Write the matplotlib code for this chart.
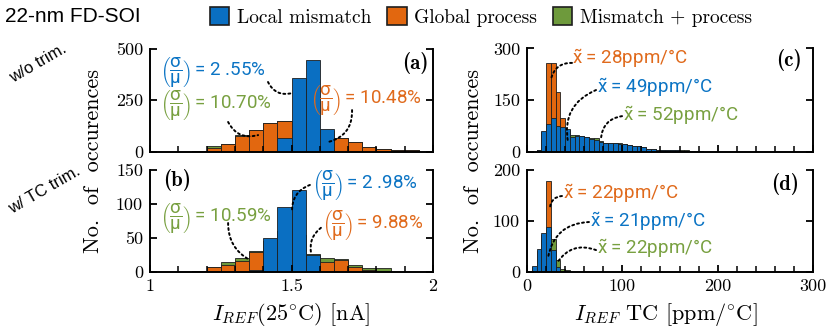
import numpy as np
import matplotlib
matplotlib.use("Agg")
import matplotlib.pyplot as plt
from matplotlib.patches import Patch
from matplotlib.ticker import MultipleLocator

# ---- data ----
# I_REF(25C) histograms, bins of 0.05 nA starting at 1.15
iref_bins = np.round(1.15 + 0.05 * np.arange(16), 2)
local_a = [0, 0, 0, 0, 0, 0, 67, 360, 444, 110, 0, 0, 0, 0, 0, 0]
global_a = [3, 18, 36, 77, 103, 139, 150, 140, 105, 65, 65, 44, 21, 11, 7, 5]
both_a = [4, 26, 37, 79, 106, 140, 150, 130, 100, 98, 66, 46, 22, 12, 8, 5]

local_b = [0, 0, 0, 0, 3, 50, 96, 121, 25, 0, 0, 0, 0, 0, 0, 0]
global_b = [1, 7, 11, 16, 30, 45, 60, 55, 24, 15, 18, 8, 3, 0, 0, 0]
both_b = [2, 8, 15, 20, 31, 45, 60, 55, 26, 20, 19, 10, 6, 6, 0, 0]

# TC histograms, bins of 5 ppm/C
tc_bins_c = 10 + 5 * np.arange(35)
local_c = [5, 60, 81, 99, 74, 70, 65, 43, 45, 44, 41, 36, 34, 29, 25, 24, 24, 22,
           21, 19, 17, 15, 13, 7, 6, 5, 4, 4, 3, 3, 2, 2, 1, 1, 1]
global_c = [3, 55, 259, 257, 172, 99, 45, 20, 10, 5, 3, 0, 0, 0, 0, 0, 0, 0,
            0, 0, 0, 0, 0, 0, 0, 0, 0, 0, 0, 0, 0, 0, 0, 0, 0]
both_c = [5, 58, 80, 98, 74, 70, 64, 48, 47, 45, 42, 38, 38, 30, 25, 24, 25, 24,
          23, 19, 17, 15, 13, 7, 6, 5, 5, 4, 4, 3, 3, 3, 1, 1, 1]

tc_bins_d = 5 + 5 * np.arange(8)
local_d = [11, 46, 77, 88, 43, 10, 0, 0]
global_d = [5, 25, 60, 178, 40, 5, 0, 0]
both_d = [10, 42, 72, 85, 64, 24, 5, 3]

legend_labels = ["Local mismatch", "Global process", "Mismatch + process"]

BLUE = "#0a6fc2"
ORANGE = "#e2670f"
GREEN = "#6e9a3c"
T_BLUE = "#0b74c4"
T_ORANGE = "#e06a1c"
T_GREEN = "#78a040"

plt.rcParams["font.family"] = "cmr10"
plt.rcParams["axes.formatter.use_mathtext"] = True
plt.rcParams["mathtext.fontset"] = "custom"
plt.rcParams["mathtext.rm"] = "Roboto"
plt.rcParams["mathtext.it"] = "Roboto"
plt.rcParams["mathtext.sf"] = "Roboto"
plt.rcParams["mathtext.bf"] = "Roboto:bold"

W, H = 830, 332
fig = plt.figure(figsize=(W / 100, H / 100), dpi=100)


def px_axes(x0, y0, x1, y1):
    # image pixel box -> figure axes
    return fig.add_axes([x0 / W, 1 - y1 / H, (x1 - x0) / W, (y1 - y0) / H])


ax_a = px_axes(150, 49, 433, 151.5)
ax_b = px_axes(150, 170, 433, 272)
ax_c = px_axes(527, 48.5, 813, 151.5)
ax_d = px_axes(527, 170, 813, 272)


def hist3(ax, bins, width, loc, glob, both):
    kw = dict(width=width, align="edge", edgecolor="#1e1e1e", linewidth=0.6)
    ax.bar(bins, both, color=GREEN, **kw)
    ax.bar(bins, glob, color=ORANGE, **kw)
    ax.bar(bins, loc, color=BLUE, **kw)


hist3(ax_a, iref_bins, 0.05, local_a, global_a, both_a)
hist3(ax_b, iref_bins, 0.05, local_b, global_b, both_b)
hist3(ax_c, tc_bins_c, 5, local_c, global_c, both_c)
hist3(ax_d, tc_bins_d, 5, local_d, global_d, both_d)

for ax in (ax_a, ax_b, ax_c, ax_d):
    ax.spines["top"].set_visible(False)
    for s in ("left", "right", "bottom"):
        ax.spines[s].set_linewidth(1.4)
    ax.tick_params(which="major", direction="in", length=5, width=1.3,
                   right=True, top=False, labelsize=13, pad=5)
    ax.tick_params(which="minor", direction="in", length=4, width=1.1,
                   left=False, right=False, top=False)

for ax in (ax_a, ax_b):
    ax.set_xlim(1, 2)
    ax.xaxis.set_minor_locator(MultipleLocator(0.1))
    ax.set_xticks([1, 1.5, 2], ["1", "1.5", "2"])
for ax in (ax_c, ax_d):
    ax.set_xlim(0, 300)
    ax.xaxis.set_minor_locator(MultipleLocator(20))
    ax.set_xticks([0, 100, 200, 300], ["0", "100", "200", "300"])
for ax in (ax_a, ax_c):
    ax.tick_params(labelbottom=False)

ax_a.set_ylim(0, 500)
ax_a.set_yticks([0, 250, 500], ["0", "250", "500"])
ax_b.set_ylim(0, 150)
ax_b.set_yticks([0, 50, 100, 150], ["0", "50", "100", "150"])
ax_c.set_ylim(0, 300)
ax_c.set_yticks([0, 150, 300], ["0", "150", "300"])
ax_d.set_ylim(0, 200)
ax_d.set_yticks([0, 100, 200], ["0", "100", "200"])

# panel tags
tag = dict(family="cmb10", fontsize=15, va="center")
ax_a.text(0.985, 0.86, "(a)", transform=ax_a.transAxes, ha="right", **tag)
ax_b.text(0.045, 0.90, "(b)", transform=ax_b.transAxes, ha="left", **tag)
ax_c.text(0.96, 0.89, "(c)", transform=ax_c.transAxes, ha="right", **tag)
ax_d.text(0.95, 0.86, "(d)", transform=ax_d.transAxes, ha="right", **tag)

frac = r"$\left(\dfrac{\sigma}{\mu}\right)\,$"
tilde = r"$\tilde{\mathrm{x}}$"


def note(ax, text, xy_text, start, end, color, rad):
    ax.text(*xy_text, text, color=color, family="Roboto", fontsize=13.5,
            ha="left", va="center")
    ax.annotate("", xy=end, xytext=start,
                arrowprops=dict(arrowstyle="-", linestyle=(0, (1, 1.6)),
                                linewidth=1.4, color="black",
                                shrinkA=0, shrinkB=0,
                                connectionstyle=f"arc3,rad={rad}"))


note(ax_a, frac + "= 2 .55%", (1.035, 388), (1.417, 339), (1.502, 285), T_BLUE, 0.4)
note(ax_a, frac + "= 10.70%", (1.035, 227), (1.276, 144), (1.382, 80), T_GREEN, 0.4)
note(ax_a, frac + "= 10.48%", (1.565, 251), (1.714, 202), (1.629, 46), T_ORANGE, -0.4)

note(ax_b, frac + "= 2 .98%", (1.572, 128), (1.565, 128), (1.502, 88), T_BLUE, 0.36)
note(ax_b, frac + "= 10.59%", (1.035, 79), (1.276, 72), (1.353, 17.6), T_GREEN, 0.3)
note(ax_b, frac + "= 9.88%", (1.608, 69), (1.604, 65), (1.569, 28), T_ORANGE, 0.3)

note(ax_c, tilde + " = 28ppm/°C", (47.2, 272), (47.2, 258), (25.2, 211), T_ORANGE, 0.4)
note(ax_c, tilde + " = 49ppm/°C", (73.1, 185), (72.4, 179), (43, 27.7), T_BLUE, 0.4)
note(ax_c, tilde + " = 52ppm/°C", (101, 106), (99.7, 103), (77.6, 36), T_GREEN, 0.4)

note(ax_d, tilde + " = 22ppm/°C", (37.8, 153), (36.7, 149), (24.1, 127), T_ORANGE, 0.4)
note(ax_d, tilde + " = 21ppm/°C", (66, 99), (65, 98), (22, 27.5), T_BLUE, 0.4)
note(ax_d, tilde + " = 22ppm/°C", (73, 45), (72.4, 43), (31.5, 17.6), T_GREEN, 0.4)

# shared labels
ylab = dict(rotation=90, ha="center", va="center", fontsize=16, family="cmr10")
fig.text(93 / W, 1 - 161 / H, "No.  of  occurences", **ylab)
fig.text(473 / W, 1 - 161 / H, "No.  of  occurences", **ylab)
xlab = dict(ha="center", va="center", fontsize=16, family="cmr10", math_fontfamily="cm")
fig.text(291 / W, 1 - 314 / H, r"$I_{REF}(25^{\circ}\mathrm{C})$ [nA]", **xlab)
fig.text(666 / W, 1 - 314 / H, r"$I_{REF}$ TC [ppm/$^{\circ}$C]", **xlab)

# header and row tags
fig.text(5 / W, 1 - 17 / H, "22-nm FD-SOI", family="Liberation Sans",
         fontsize=15, ha="left", va="center")
fig.text(38 / W, 1 - 63 / H, "w/o trim.", family="Liberation Sans",
         fontsize=12, rotation=30, ha="center", va="center")
fig.text(44 / W, 1 - 190 / H, "w/ TC trim.", family="Liberation Sans",
         fontsize=12, rotation=30, ha="center", va="center")

handles = [Patch(facecolor=c, edgecolor="#1e1e1e", linewidth=1.2)
           for c in (BLUE, ORANGE, GREEN)]
fig.legend(handles, legend_labels, ncol=3, loc="center",
           bbox_to_anchor=(481 / W, 1 - 17 / H), frameon=False, fontsize=14,
           handlelength=1.0, handleheight=1.0, handletextpad=0.4,
           columnspacing=0.8, borderaxespad=0)

fig.savefig("out.png", dpi=100)
